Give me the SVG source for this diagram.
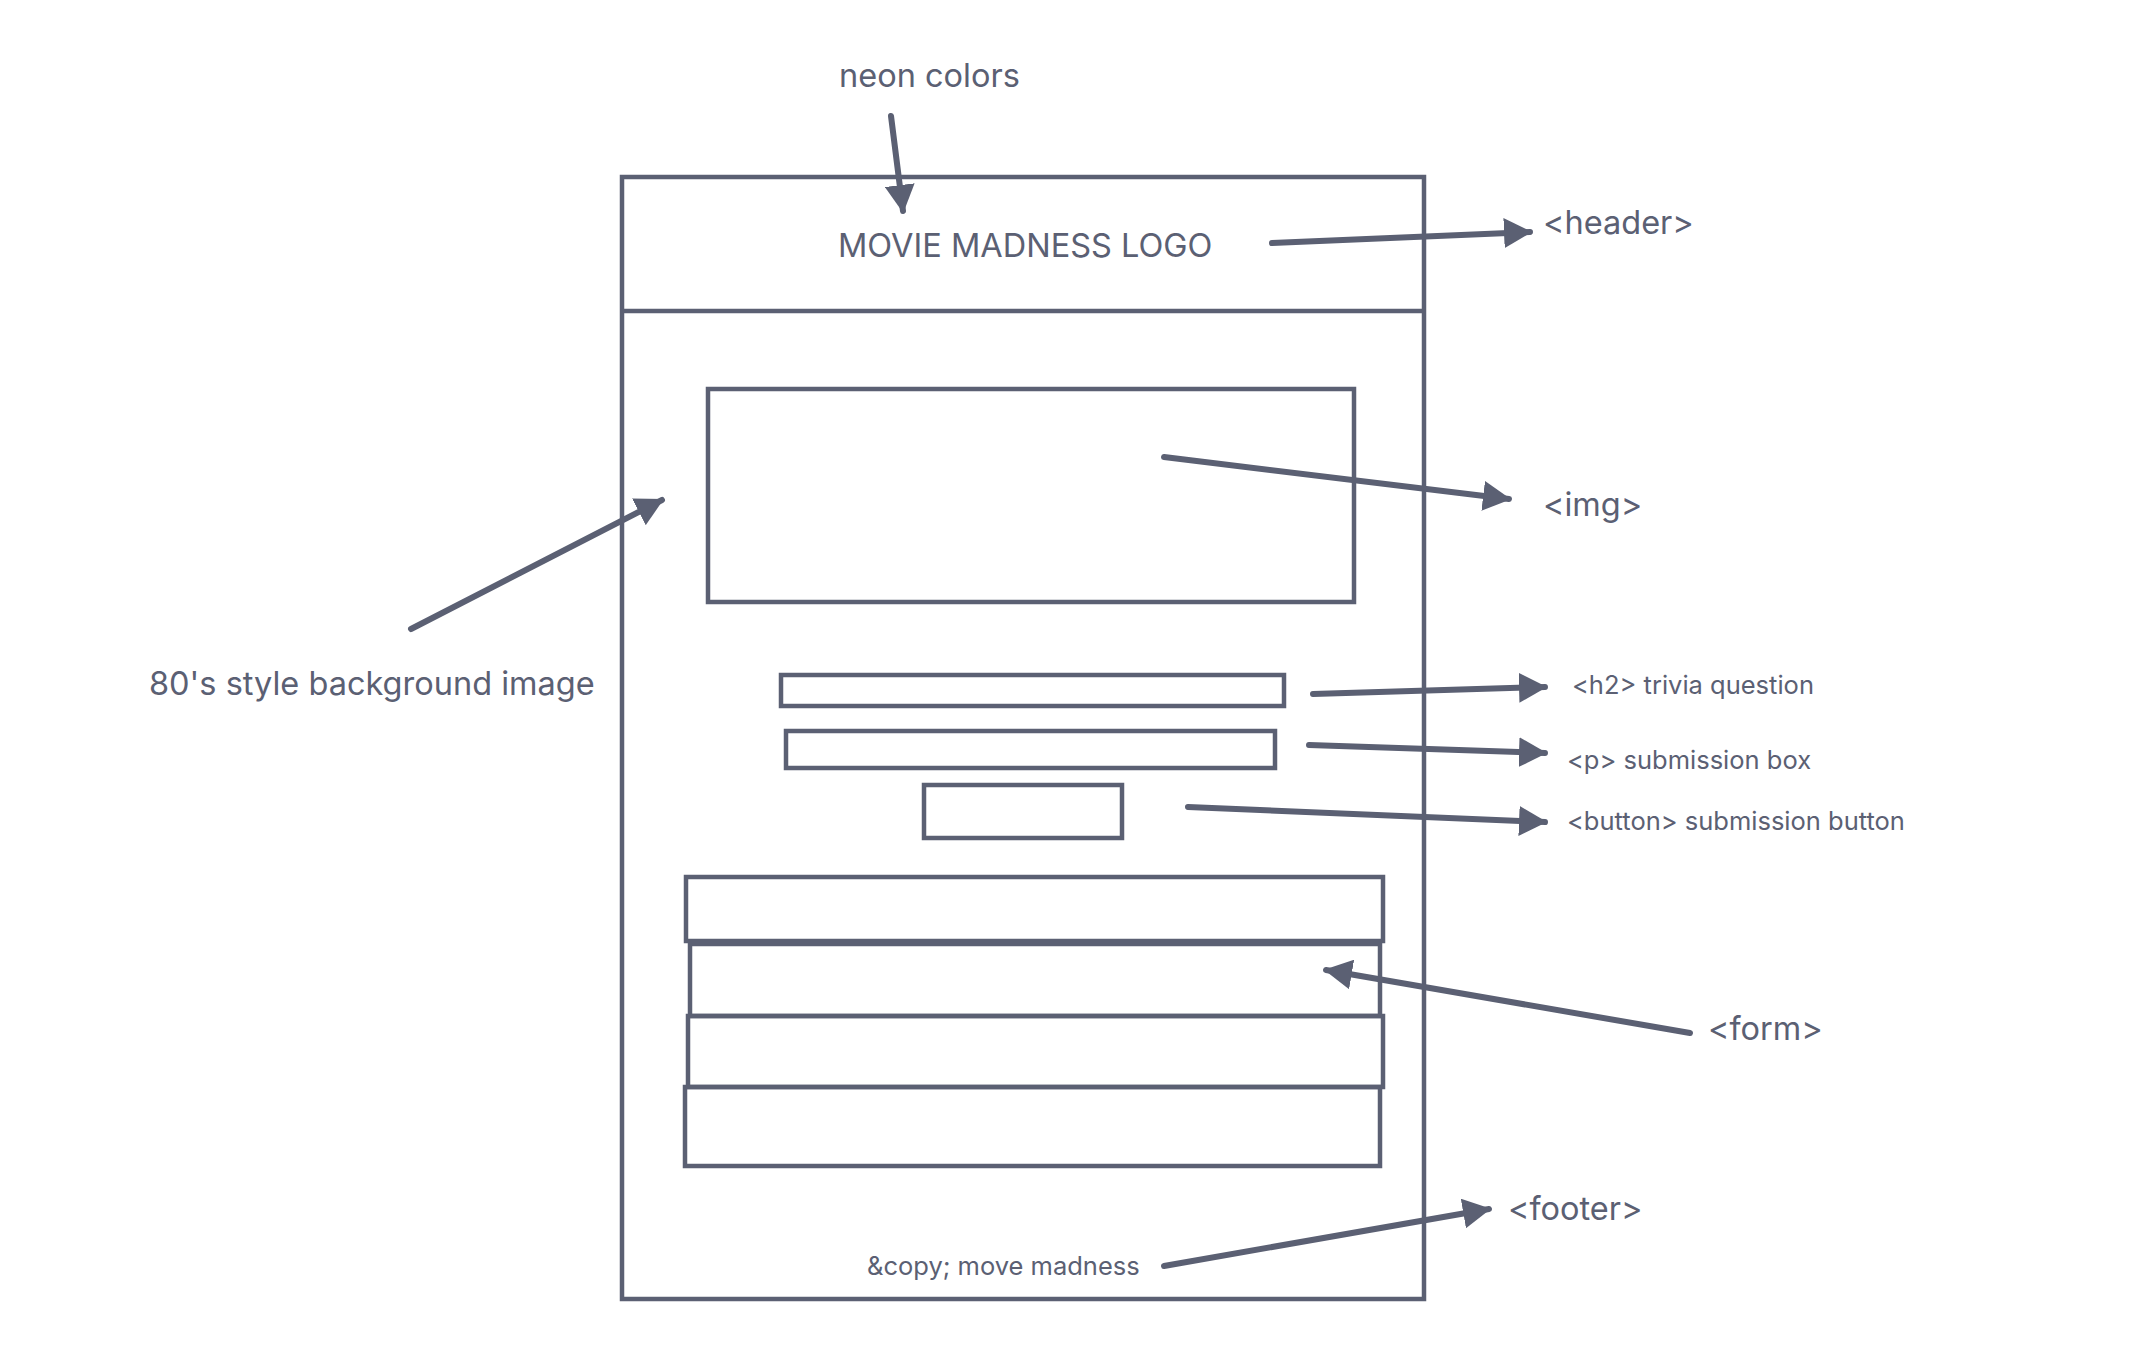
<svg xmlns="http://www.w3.org/2000/svg" width="2130" height="1372" viewBox="0 0 2130 1372">
<style>
.box{fill:none;stroke:#5b6073;stroke-width:4.5}
.ln{fill:none;stroke:#5b6073;stroke-width:6;stroke-linecap:round}
.t{font-family:Inter,"Liberation Sans",sans-serif;fill:#5b6073}
.big{font-size:32.5px}
.sm{font-size:25.5px}
</style>
<defs>
<marker id="ah" markerUnits="userSpaceOnUse" markerWidth="28" markerHeight="30" viewBox="0 0 28 30" refX="26" refY="15" orient="auto">
<path d="M0,0 L28,15 L0,30 Z" fill="#5b6073"/>
</marker>
</defs>
<rect width="2130" height="1372" fill="#ffffff"/>
<g id="page">
<rect class="box" x="622" y="177" width="802" height="1122"/>
<line class="box" x1="622" y1="311" x2="1424" y2="311"/>
</g>
<g id="logo"><text class="t big" x="838" y="257">MOVIE MADNESS LOGO</text></g>
<g id="img-box"><rect class="box" x="708" y="389" width="646" height="213"/></g>
<g id="h2-box"><rect class="box" x="781" y="675" width="503" height="31"/></g>
<g id="p-box"><rect class="box" x="786" y="731" width="489" height="37"/></g>
<g id="button-box"><rect class="box" x="924" y="785" width="198" height="53"/></g>
<g id="form">
<rect class="box" x="686" y="877" width="697" height="64"/>
<rect class="box" x="690" y="944" width="690" height="72"/>
<rect class="box" x="688" y="1016" width="695" height="71"/>
<rect class="box" x="685" y="1087" width="695" height="79"/>
</g>
<g id="footer-text"><text class="t sm" x="867" y="1275">&amp;copy; move madness</text></g>
<g id="labels">
<text class="t big" x="839" y="87">neon colors</text>
<text class="t big" x="1543" y="234">&lt;header&gt;</text>
<text class="t big" x="1543" y="516">&lt;img&gt;</text>
<text class="t big" x="149" y="695">80's style background image</text>
<text class="t sm" x="1572" y="694">&lt;h2&gt; trivia question</text>
<text class="t sm" x="1567" y="769">&lt;p&gt; submission box</text>
<text class="t sm" x="1567" y="830">&lt;button&gt; submission button</text>
<text class="t big" x="1708" y="1040">&lt;form&gt;</text>
<text class="t big" x="1508" y="1220">&lt;footer&gt;</text>
</g>
<g id="connectors">
<line class="ln" x1="891" y1="116" x2="903" y2="211" marker-end="url(#ah)"/>
<line class="ln" x1="1272" y1="243" x2="1530" y2="232" marker-end="url(#ah)"/>
<line class="ln" x1="1164" y1="457" x2="1509" y2="499" marker-end="url(#ah)"/>
<line class="ln" x1="411" y1="629" x2="662" y2="500" marker-end="url(#ah)"/>
<line class="ln" x1="1313" y1="694" x2="1545" y2="687" marker-end="url(#ah)"/>
<line class="ln" x1="1309" y1="745" x2="1545" y2="753" marker-end="url(#ah)"/>
<line class="ln" x1="1188" y1="807" x2="1545" y2="822" marker-end="url(#ah)"/>
<line class="ln" x1="1690" y1="1033" x2="1326" y2="970" marker-end="url(#ah)"/>
<line class="ln" x1="1164" y1="1266" x2="1489" y2="1209" marker-end="url(#ah)"/>
</g>
</svg>
